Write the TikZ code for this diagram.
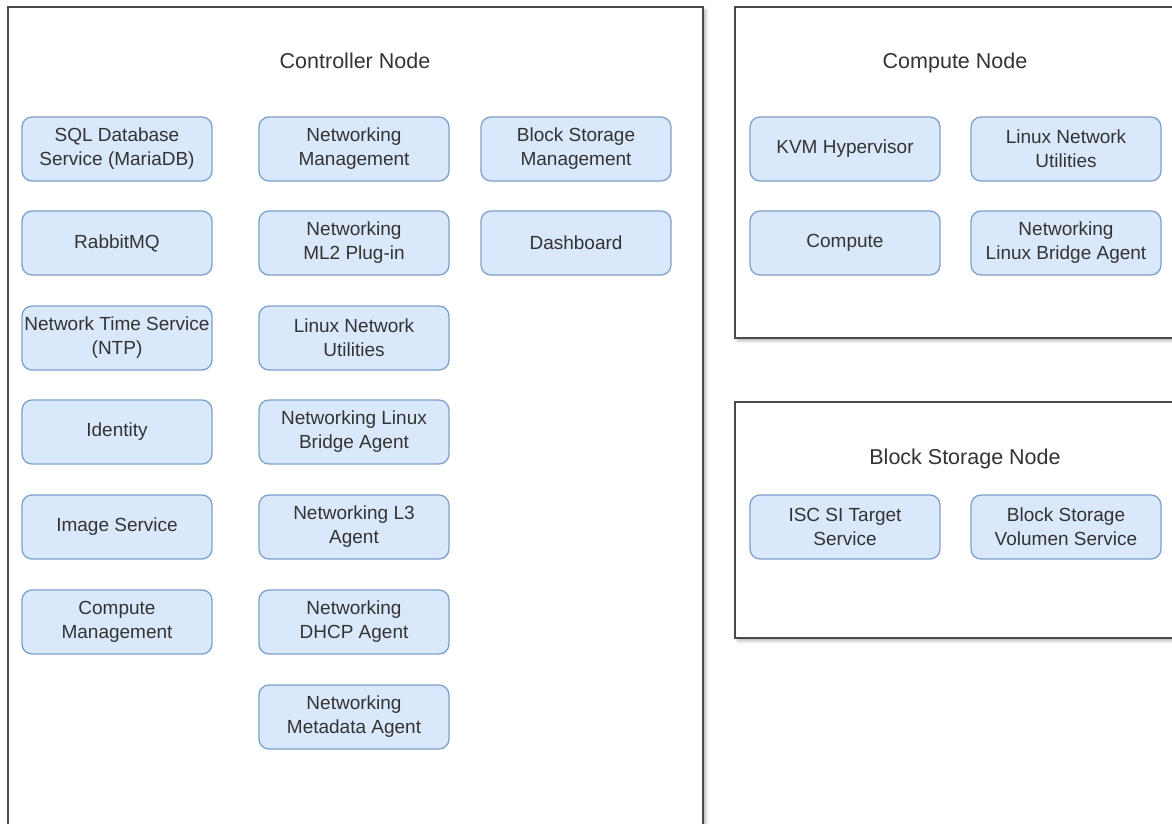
\documentclass[tikz,border=0pt]{standalone}
\usepackage{fontspec}
\setmainfont{Liberation Sans}
\usetikzlibrary{shadows.blur}
\definecolor{boxfill}{HTML}{DAE8FC}
\definecolor{boxline}{HTML}{7EA0CC}
\definecolor{frameline}{HTML}{4A4A4A}
\definecolor{txt}{HTML}{333333}
\tikzset{
  service/.style={draw=boxline, fill=boxfill, line width=1.3pt, rounded corners=10pt,
    minimum width=190pt, minimum height=64pt, inner sep=0pt, align=center,
    font=\fontsize{19}{24}\selectfont, text=txt},
  container/.style={draw=frameline, fill=white, line width=1.8pt, anchor=north west,
    inner sep=0pt,
    blur shadow={shadow xshift=3pt, shadow yshift=-3pt, shadow opacity=30,
      shadow blur radius=3pt, shadow blur steps=6}},
  heading/.style={font=\fontsize{21.5}{25}\selectfont, text=txt, inner sep=0pt, anchor=base}
}
\begin{document}
\begin{tikzpicture}[x=1pt,y=-1pt]
  \useasboundingbox (0,0) rectangle (1172,824);
  \clip (0,0) rectangle (1172,824);

  % host frames
  \node[container, minimum width=695pt, minimum height=840pt] (ctrl) at (7,6) {};
  \node[container, minimum width=460pt, minimum height=331pt] (comp) at (734,6) {};
  \node[container, minimum width=460pt, minimum height=236pt] (stor) at (734,401) {};

  % frame titles
  \node[heading] (ctrlT) at (355,69) {Controller Node};
  \node[heading] (compT) at (955,69) {Compute Node};
  \node[heading] (storT) at (965,464) {Block Storage Node};

  % controller node services
  \node[service] (sql)  at (117,149) {SQL Database\\Service (MariaDB)};
  \node[service] (mq)   at (117,243) {RabbitMQ};
  \node[service] (ntp)  at (117,338) {Network Time Service\\(NTP)};
  \node[service] (idn)  at (117,432) {Identity};
  \node[service] (img)  at (117,527) {Image Service};
  \node[service] (cmpm) at (117,622) {Compute\\Management};

  \node[service] (netm) at (354,149) {Networking\\Management};
  \node[service] (ml2)  at (354,243) {Networking\\ML2 Plug-in};
  \node[service] (lnu)  at (354,338) {Linux Network\\Utilities};
  \node[service] (lba)  at (354,432) {Networking Linux\\Bridge Agent};
  \node[service] (l3)   at (354,527) {Networking L3\\Agent};
  \node[service] (dhcp) at (354,622) {Networking\\DHCP Agent};
  \node[service] (meta) at (354,717) {Networking\\Metadata Agent};

  \node[service] (bsm)  at (576,149) {Block Storage\\Management};
  \node[service] (dash) at (576,243) {Dashboard};

  % compute node services
  \node[service] (kvm)  at (845,149) {KVM Hypervisor};
  \node[service] (clnu) at (1066,149) {Linux Network\\Utilities};
  \node[service] (cmp)  at (845,243) {Compute};
  \node[service] (clba) at (1066,243) {Networking\\Linux Bridge Agent};

  % block storage node services
  \node[service] (iscsi) at (845,527) {ISC SI Target\\Service};
  \node[service] (vol)   at (1066,527) {Block Storage\\Volumen Service};
\end{tikzpicture}
\end{document}
